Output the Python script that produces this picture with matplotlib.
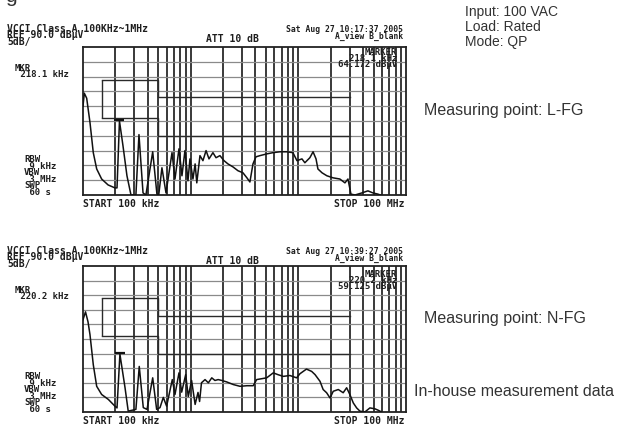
import matplotlib.pyplot as plt
from matplotlib.ticker import NullLocator

W, H = 625, 429

# L-FG trace, frequency in MHz, level in dBuV
lfg_freq = [0.100, 0.1028, 0.1082, 0.1161, 0.1246, 0.134, 0.149, 0.171, 0.198, 0.207,
            0.2181, 0.235, 0.256, 0.279, 0.310, 0.331, 0.361, 0.384, 0.444, 0.486,
            0.505, 0.541, 0.590, 0.671, 0.715, 0.779, 0.830, 0.885, 0.944, 0.985,
            1.05, 1.10, 1.14, 1.22, 1.30, 1.39, 1.48, 1.61, 1.72, 1.87,
            2.04, 2.22, 2.47, 2.75, 3.06, 3.33, 3.55, 3.79, 4.04, 4.40,
            5.11, 5.81, 6.75, 7.84, 8.91, 9.71, 10.8, 11.5, 12.8, 13.7,
            14.6, 15.2, 16.6, 18.4, 21.0, 24.3, 27.1, 28.9, 30.8, 33.6,
            38.9, 44.3, 49.3, 54.8, 61.1]
lfg_level = [70.0, 74.4, 72.7, 64.5, 54.3, 48.8, 45.4, 43.4, 42.4, 42.4,
             65.0, 56.7, 46.5, 40.0, 40.0, 60.4, 40.7, 40.0, 54.6, 40.3,
             40.0, 49.2, 40.7, 54.3, 45.4, 55.6, 46.5, 55.0, 44.8, 52.2,
             45.4, 50.5, 44.1, 53.3, 51.6, 55.0, 52.2, 54.3, 52.6, 53.3,
             51.6, 50.5, 49.5, 48.2, 47.5, 45.8, 44.4, 50.5, 52.9, 53.3,
             53.9, 54.3, 54.6, 54.6, 54.3, 51.6, 52.2, 50.9, 52.6, 54.6,
             52.2, 48.8, 47.5, 46.5, 45.8, 45.4, 44.1, 45.4, 40.3, 40.0,
             40.7, 41.4, 40.7, 40.3, 39.7]

# N-FG trace
nfg_freq = [0.100, 0.1055, 0.1113, 0.1161, 0.1246, 0.134, 0.149, 0.172, 0.198, 0.207,
            0.2202, 0.2455, 0.263, 0.310, 0.333, 0.363, 0.393, 0.444, 0.483, 0.519,
            0.557, 0.598, 0.675, 0.715, 0.779, 0.825, 0.899, 0.950, 1.02, 1.10,
            1.17, 1.21, 1.26, 1.36, 1.46, 1.57, 1.68, 1.80, 1.95, 2.16,
            2.49, 2.87, 3.33, 3.81, 4.10, 5.08, 5.85, 6.46, 7.24, 8.35,
            9.64, 10.35, 11.9, 13.3, 14.3, 15.9, 17.0, 18.3, 19.7, 21.1,
            23.5, 26.1, 28.1, 30.1, 32.4, 34.8, 37.3, 41.5, 46.2, 51.4,
            55.2, 59.3]
nfg_level = [71.6, 74.3, 70.9, 66.5, 56.2, 48.8, 46.0, 44.3, 42.0, 41.4,
             59.8, 48.4, 40.3, 40.9, 55.6, 41.5, 40.9, 51.7, 40.9, 41.5,
             45.0, 42.0, 51.1, 46.0, 53.4, 46.8, 52.8, 45.3, 50.8, 42.6,
             46.7, 43.6, 50.0, 51.1, 50.0, 51.7, 50.8, 51.1, 50.8, 50.3,
             49.4, 48.8, 49.0, 49.0, 51.1, 51.7, 53.4, 52.8, 52.2, 52.5,
             51.7, 53.1, 54.7, 53.9, 52.8, 50.5, 47.7, 46.6, 44.8, 47.1,
             47.7, 46.6, 48.3, 46.0, 43.1, 41.4, 40.3, 40.0, 41.4, 41.1,
             40.6, 40.0]

# VCCI class A limits
limit_freq = [0.15, 0.5, 0.5, 30.0]
qp_limit = [79, 79, 73, 73]
av_limit = [66, 66, 60, 60]

markers = [(0.2181, 65.0, '218.1 kHz', '64.172 dBµV', '10:17:37'),
           (0.2202, 59.8, '220.2 kHz', '59.125 dBµV', '10:39:27')]

ink = '#1e1e1e'
mono = dict(family='DejaVu Sans Mono', fontweight='bold', color=ink)

fig = plt.figure(figsize=(W / 100, H / 100), dpi=100)


def put(x, y, s, size=6.5, ha='left', ls=0.62):
    fig.text(x / W, 1 - y / H, s, ha=ha, va='center', fontsize=size,
             linespacing=ls, multialignment=ha, **mono)


def analyzer(top, bottom, freq, level, mk, dy_top, dy_bot):
    ax = fig.add_axes([83 / W, 1 - bottom / H, 323 / W, (bottom - top) / H])
    ax.set_xscale('log')
    ax.set_xlim(0.1, 100)
    ax.set_ylim(40, 90)
    for d in (0.1, 1, 10):
        for m in range(1, 10):
            f = m * d
            if f > 0.1:
                ax.axvline(f, color='#2a2a2a', lw=1.3, zorder=1)
    for lv in range(45, 90, 5):
        ax.axhline(lv, color='#8a8a8a', lw=0.9, zorder=1)
    ax.step(limit_freq, qp_limit, where='post', color='#2a2a2a', lw=1.0)
    ax.step(limit_freq, av_limit, where='post', color='#2a2a2a', lw=1.0)
    ax.vlines(0.15, 66, 79, color='#2a2a2a', lw=1.0)
    ax.plot(freq, level, color='#111111', lw=1.1, zorder=3)
    ax.plot(mk[0], mk[1] + 0.4, marker='_', ms=7, mew=1.6, color='#111111', zorder=4)
    for a in (ax.xaxis, ax.yaxis):
        a.set_major_locator(NullLocator())
        a.set_minor_locator(NullLocator())
    for s in ax.spines.values():
        s.set_color('#222222')
        s.set_linewidth(1.3)

    put(7, 35.5 + dy_top, 'VCCI Class A 100KHz~1MHz\nREF 90.0 dBµV\n5dB/', size=7)
    put(206, 39 + dy_top, 'ATT 10 dB', size=7)
    put(403, 33 + dy_top, 'Sat Aug 27 %s 2005\nA_view B_blank' % mk[4],
        size=5.8, ha='right', ls=0.7)
    put(15, 71.5 + dy_top, 'MKR\n %s' % mk[2])
    put(397, 58.5 + dy_top, 'MARKER\n%s\n%s' % (mk[2], mk[3]), ha='right')
    put(24, 176 + dy_bot, 'RBW\n 9 kHz\nVBW\n 3 MHz\nSWP\n 60 s', ls=0.66)
    put(83, 204 + dy_bot, 'START 100 kHz', size=7)
    put(404, 204 + dy_bot, 'STOP 100 MHz', size=7, ha='right')
    return ax


analyzer(47, 195, lfg_freq, lfg_level, markers[0], 0, 0)
analyzer(266, 412, nfg_freq, nfg_level, markers[1], 222, 217)

sans = dict(family='Liberation Sans', color='#333333', va='center')
fig.text(5 / W, 1 - 1.5 / H, 'g', fontsize=15, family='Liberation Sans',
         color='#333333', va='baseline')
fig.text(465 / W, 1 - 12 / H, 'Input: 100 VAC', fontsize=10, **sans)
fig.text(465 / W, 1 - 27 / H, 'Load: Rated', fontsize=10, **sans)
fig.text(465 / W, 1 - 42 / H, 'Mode: QP', fontsize=10, **sans)
fig.text(424 / W, 1 - 110 / H, 'Measuring point: L-FG', fontsize=11.5, **sans)
fig.text(424 / W, 1 - 319 / H, 'Measuring point: N-FG', fontsize=11.5, **sans)
fig.text(414 / W, 1 - 392 / H, 'In-house measurement data', fontsize=11.5, **sans)

fig.savefig('out.png', dpi=100)
